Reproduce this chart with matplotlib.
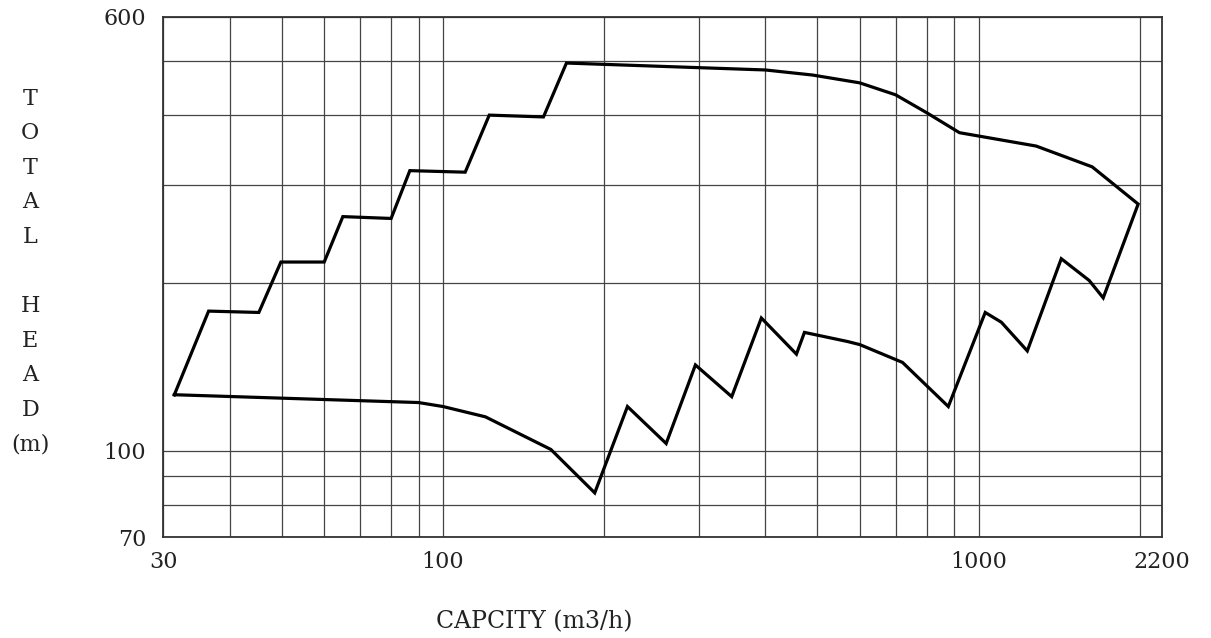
import matplotlib.pyplot as plt
from matplotlib.ticker import FixedLocator, NullFormatter

# Outline of the operating range (capacity m3/h, head m)
upper_q = [31.5, 36.5, 45.3, 49.8, 60, 65, 80, 86.7, 110, 122, 154, 170,
           400, 490, 600, 700, 800, 921, 1281, 1630, 1986]
upper_h = [126, 178, 177, 218, 218, 263, 261, 318, 316, 400, 397, 496,
           482, 472, 457, 435, 404, 372, 352, 323, 277]

lower_q = [1986, 1709, 1609, 1427, 1233, 1103, 1029, 878, 721, 600, 569,
           473, 457, 393, 346, 296, 261, 221, 192, 159, 120, 100, 90, 31.5]
lower_h = [277, 188, 202, 221, 151, 170, 177, 120, 144, 155, 157,
           163, 149, 173, 125, 142.5, 103, 120, 84, 100.5, 115, 120, 122, 126]

x_ticks = [30, 100, 1000, 2200]
y_ticks = [70, 100, 600]
x_grid = [40, 50, 60, 70, 80, 90, 200, 300, 400, 500, 600, 700, 800, 900, 2000]
y_grid = [80, 90, 200, 300, 400, 500]

plt.rcParams['font.family'] = ['DejaVu Serif']

fig = plt.figure(figsize=(12.11, 6.38), dpi=100)
ax = fig.add_axes([0.1346, 0.1583, 0.8249, 0.8151])

ax.plot(upper_q + lower_q, upper_h + lower_h, color='black', lw=2.3,
        solid_joinstyle='miter', zorder=3)

ax.set_xscale('log')
ax.set_yscale('log')
ax.set_xlim(30, 2200)
ax.set_ylim(70, 600)

ax.xaxis.set_major_locator(FixedLocator(x_ticks))
ax.xaxis.set_major_formatter(plt.FixedFormatter([str(v) for v in x_ticks]))
ax.yaxis.set_major_locator(FixedLocator(y_ticks))
ax.yaxis.set_major_formatter(plt.FixedFormatter([str(v) for v in y_ticks]))
ax.xaxis.set_minor_locator(FixedLocator(x_grid))
ax.yaxis.set_minor_locator(FixedLocator(y_grid))
ax.xaxis.set_minor_formatter(NullFormatter())
ax.yaxis.set_minor_formatter(NullFormatter())

ax.grid(True, which='both', color='#444444', lw=0.9)
ax.tick_params(which='both', length=0)
ax.tick_params(axis='x', labelsize=16, pad=10, colors='#222222')
ax.tick_params(axis='y', labelsize=16, pad=12, colors='#222222')

for s in ax.spines.values():
    s.set_color('#333333')
    s.set_linewidth(1.3)
    s.set_zorder(4)

fig.text(0.441, 0.025, 'CAPCITY (m3/h)', ha='center', va='center',
         fontsize=17, color='#222222')
fig.text(0.025, 0.5745, 'T\nO\nT\nA\nL\n\nH\nE\nA\nD\n(m)', ha='center',
         va='center', fontsize=16, color='#222222', linespacing=1.74)

fig.savefig('out.png', dpi=100)
